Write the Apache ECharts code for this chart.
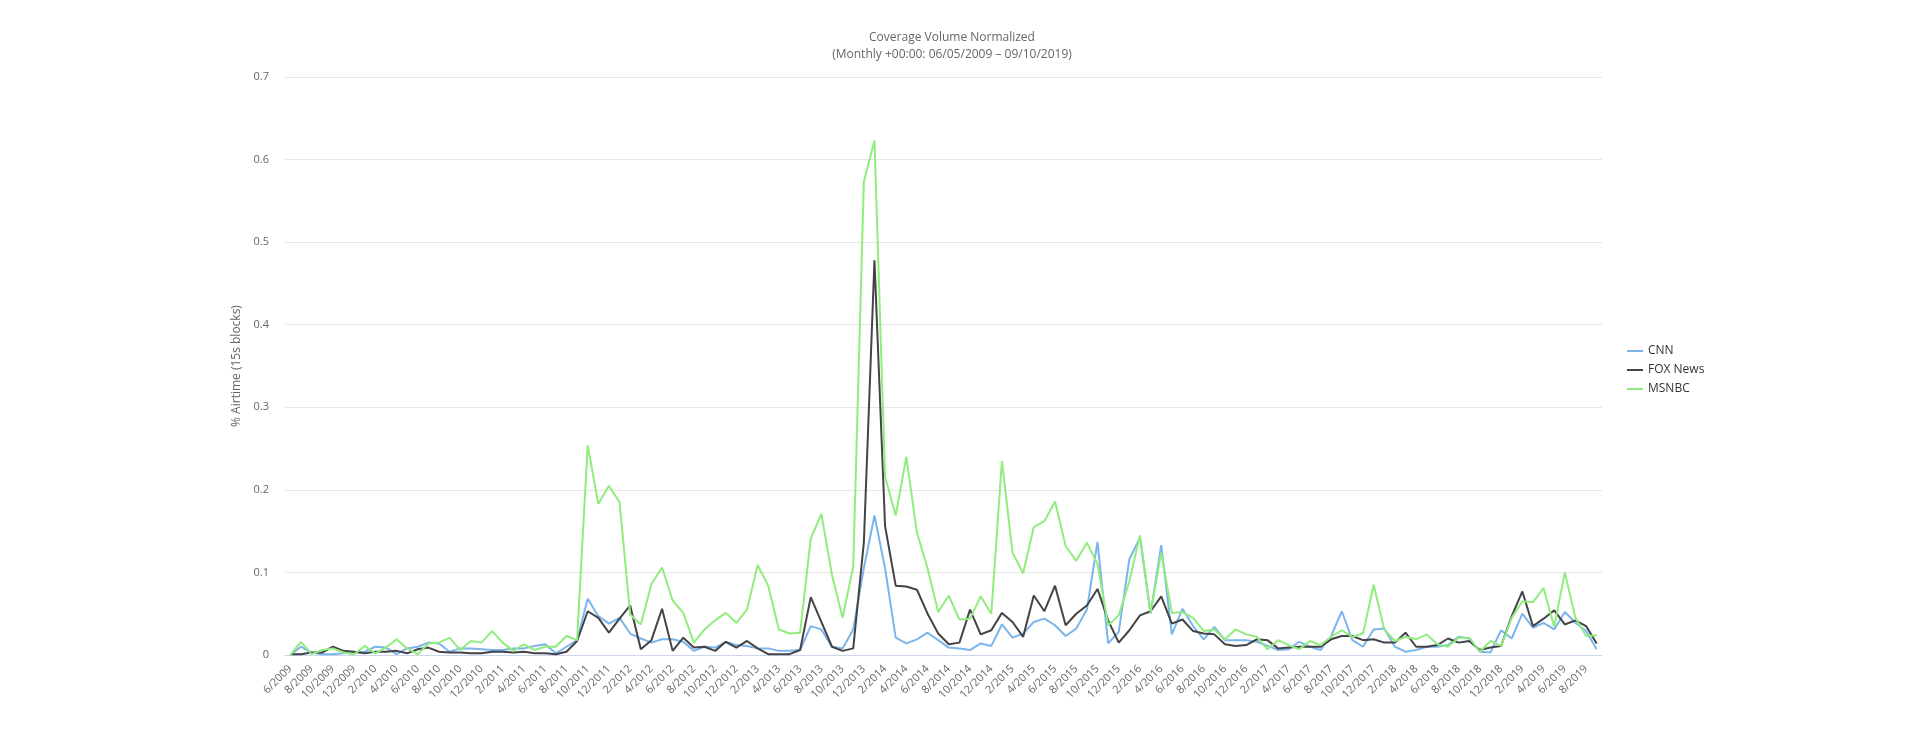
<!DOCTYPE html>
<html>
<head>
<meta charset="utf-8">
<script src="https://cdn.jsdelivr.net/npm/echarts@6/dist/echarts.min.js"></script>
<style>
html,body{margin:0;padding:0;background:#fff;}
#chart{width:1920px;height:740px;}
</style>
</head>
<body>
<div id="chart"></div>
<script>
const months = [
"6/2009","7/2009","8/2009","9/2009","10/2009","11/2009","12/2009",
"1/2010","2/2010","3/2010","4/2010","5/2010","6/2010","7/2010","8/2010","9/2010","10/2010","11/2010","12/2010",
"1/2011","2/2011","3/2011","4/2011","5/2011","6/2011","7/2011","8/2011","9/2011","10/2011","11/2011","12/2011",
"1/2012","2/2012","3/2012","4/2012","5/2012","6/2012","7/2012","8/2012","9/2012","10/2012","11/2012","12/2012",
"1/2013","2/2013","3/2013","4/2013","5/2013","6/2013","7/2013","8/2013","9/2013","10/2013","11/2013","12/2013",
"1/2014","2/2014","3/2014","4/2014","5/2014","6/2014","7/2014","8/2014","9/2014","10/2014","11/2014","12/2014",
"1/2015","2/2015","3/2015","4/2015","5/2015","6/2015","7/2015","8/2015","9/2015","10/2015","11/2015","12/2015",
"1/2016","2/2016","3/2016","4/2016","5/2016","6/2016","7/2016","8/2016","9/2016","10/2016","11/2016","12/2016",
"1/2017","2/2017","3/2017","4/2017","5/2017","6/2017","7/2017","8/2017","9/2017","10/2017","11/2017","12/2017",
"1/2018","2/2018","3/2018","4/2018","5/2018","6/2018","7/2018","8/2018","9/2018","10/2018","11/2018","12/2018",
"1/2019","2/2019","3/2019","4/2019","5/2019","6/2019","7/2019","8/2019","9/2019"
];

const cnn = [
0.000,0.010,0.003,0.001,0.001,0.002,0.003,0.004,0.010,0.009,0.001,0.008,0.010,0.015,0.014,0.004,0.008,0.008,0.007,0.006,
0.006,0.008,0.008,0.011,0.013,0.002,0.010,0.018,0.068,0.047,0.038,0.045,0.026,0.020,0.015,0.019,0.019,0.016,0.005,0.010,
0.009,0.016,0.012,0.011,0.008,0.008,0.005,0.005,0.006,0.035,0.031,0.010,0.008,0.031,0.105,0.169,0.105,0.021,0.014,0.019,
0.027,0.018,0.009,0.008,0.006,0.014,0.011,0.037,0.021,0.026,0.040,0.044,0.036,0.023,0.032,0.055,0.137,0.014,0.028,0.116,
0.142,0.050,0.133,0.025,0.056,0.035,0.019,0.034,0.018,0.018,0.018,0.016,0.011,0.006,0.007,0.016,0.010,0.006,0.023,0.053,
0.018,0.010,0.031,0.032,0.010,0.004,0.006,0.010,0.010,0.012,0.022,0.020,0.004,0.003,0.030,0.020,0.050,0.033,0.039,0.031,
0.052,0.039,0.029,0.007
];

const fox = [
0.001,0.001,0.003,0.003,0.010,0.005,0.004,0.002,0.004,0.004,0.005,0.002,0.007,0.009,0.004,0.003,0.003,0.002,0.002,0.004,
0.004,0.003,0.004,0.002,0.002,0.001,0.004,0.017,0.053,0.045,0.027,0.044,0.060,0.007,0.018,0.056,0.005,0.021,0.009,0.010,
0.005,0.016,0.009,0.017,0.008,0.001,0.001,0.001,0.006,0.070,0.040,0.010,0.005,0.008,0.136,0.478,0.156,0.084,0.083,0.079,
0.050,0.026,0.013,0.015,0.055,0.025,0.030,0.051,0.040,0.022,0.072,0.053,0.084,0.036,0.050,0.060,0.080,0.042,0.015,0.030,
0.048,0.053,0.071,0.038,0.043,0.029,0.026,0.025,0.013,0.011,0.012,0.019,0.018,0.008,0.009,0.010,0.010,0.010,0.019,0.023,
0.023,0.018,0.019,0.015,0.015,0.027,0.010,0.010,0.012,0.020,0.015,0.017,0.006,0.009,0.011,0.047,0.077,0.035,0.044,0.054,
0.037,0.042,0.035,0.014
];

const msnbc = [
0.000,0.016,0.001,0.006,0.008,0.003,0.001,0.011,0.002,0.009,0.019,0.008,0.001,0.014,0.015,0.021,0.006,0.017,0.015,0.029,
0.015,0.005,0.013,0.006,0.010,0.010,0.023,0.018,0.254,0.183,0.205,0.185,0.049,0.037,0.086,0.106,0.066,0.051,0.015,0.031,
0.042,0.051,0.039,0.055,0.109,0.084,0.031,0.026,0.027,0.141,0.171,0.097,0.045,0.107,0.573,0.623,0.216,0.169,0.240,0.148,
0.105,0.052,0.072,0.043,0.044,0.071,0.050,0.235,0.124,0.099,0.155,0.162,0.186,0.132,0.114,0.136,0.110,0.036,0.048,0.089,
0.145,0.051,0.124,0.051,0.052,0.045,0.029,0.031,0.019,0.031,0.025,0.022,0.007,0.018,0.012,0.007,0.017,0.012,0.022,0.030,
0.022,0.026,0.085,0.031,0.017,0.022,0.019,0.025,0.013,0.010,0.021,0.021,0.004,0.017,0.011,0.045,0.065,0.064,0.081,0.034,
0.100,0.045,0.023,0.024
];

const seriesNames = ["CNN", "FOX News", "MSNBC"];
const seriesColors = ["#7cb5ec", "#434348", "#90ed7d"];
const yTicks = [0, 0.1, 0.2, 0.3, 0.4, 0.5, 0.6, 0.7];

const FONT = "Open Sans";
const chart = echarts.init(document.getElementById('chart'), null, {renderer: 'canvas'});
const dataSets = [cnn, fox, msnbc];

chart.setOption({
  animation: false,
  backgroundColor: '#ffffff',
  color: seriesColors,
  title: {
    text: 'Coverage Volume Normalized',
    subtext: '(Monthly +00:00: 06/05/2009 \u2013 09/10/2019)',
    left: 947,
    textAlign: 'center',
    top: 25,
    itemGap: 1,
    textStyle: {fontFamily: FONT, fontSize: 12, fontWeight: 'normal', color: '#666666', lineHeight: 16},
    subtextStyle: {fontFamily: FONT, fontSize: 12, color: '#666666', lineHeight: 16}
  },
  legend: {
    orient: 'vertical',
    left: 1622,
    top: 339,
    icon: 'rect',
    itemWidth: 16,
    itemHeight: 2,
    itemGap: 5,
    data: seriesNames,
    textStyle: {fontFamily: FONT, fontSize: 12, color: '#333333', lineHeight: 14, padding: [0,0,0,0]}
  },
  grid: {left: 285, right: 318, top: 77, bottom: 85, containLabel: false},
  xAxis: {
    type: 'category',
    data: months,
    boundaryGap: true,
    axisLine: {show: true, lineStyle: {color: '#ccd6eb', width: 1}},
    axisTick: {show: false},
    splitLine: {show: false},
    axisLabel: {
      interval: 1,
      rotate: 45,
      margin: 12,
      fontFamily: FONT,
      fontSize: 11,
      color: '#666666'
    }
  },
  yAxis: {
    type: 'value',
    min: 0,
    max: 0.7,
    interval: 0.1,
    name: '% Airtime (15s blocks)',
    nameLocation: 'middle',
    nameGap: 42,
    nameTextStyle: {fontFamily: FONT, fontSize: 12, color: '#666666'},
    axisLine: {show: false},
    axisTick: {show: false},
    splitLine: {show: true, lineStyle: {color: '#e6e6e6', width: 1}},
    axisLabel: {
      margin: 16,
      fontFamily: FONT,
      fontSize: 11,
      color: '#666666',
      formatter: function (v) { return String(Math.round(v * 10) / 10); }
    }
  },
  series: seriesNames.map(function (name, k) {
    return {
      name: name,
      type: 'line',
      data: dataSets[k],
      showSymbol: false,
      symbol: 'none',
      smooth: false,
      lineStyle: {width: 2, color: seriesColors[k]},
      itemStyle: {color: seriesColors[k]}
    };
  })
});
</script>
</body>
</html>
